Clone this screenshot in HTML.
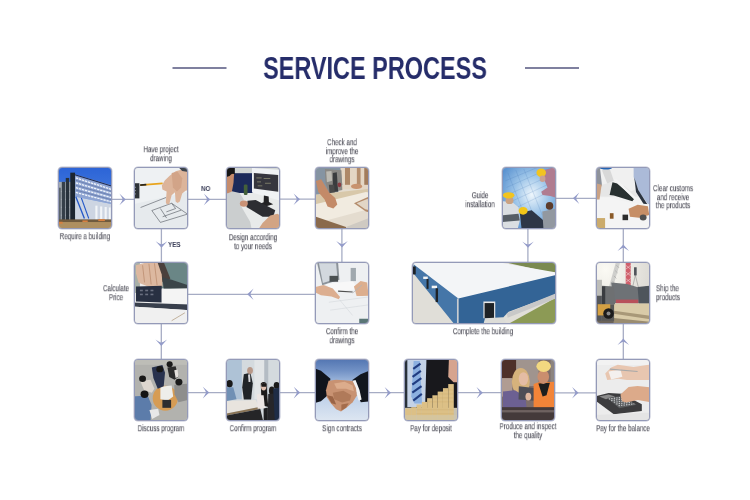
<!DOCTYPE html>
<html><head><meta charset="utf-8">
<style>
html,body{margin:0;padding:0;background:#fff;}
body{width:750px;height:500px;position:relative;overflow:hidden;font-family:"Liberation Sans",sans-serif;}
.t{position:absolute;will-change:transform;width:120px;text-align:center;font-size:8.6px;line-height:8.6px;color:#4a4a55;-webkit-text-stroke:0.1px #4a4a55;transform:translateY(0.2px) scaleX(0.726);transform-origin:50% 0;white-space:nowrap;}
.tl{text-align:left;transform-origin:0 0;}
.b{position:absolute;width:52px;height:60px;border:1px solid #949ab8;box-shadow:0 0 0 0.5px rgba(148,154,184,0.6);border-radius:4px;overflow:hidden;background:#ccc;}
.ph{position:absolute;left:-3px;top:-3px;width:58px;height:66px;display:block;filter:blur(0.7px);}
#title{position:absolute;will-change:transform;left:175px;top:52.2px;width:400px;text-align:center;font-weight:bold;font-size:31px;line-height:34px;color:#262d6a;transform:scaleX(0.757);transform-origin:50% 0;white-space:nowrap;}
.yn{position:absolute;will-change:transform;font-weight:bold;font-size:7.4px;line-height:8px;color:#3a3e58;transform:scaleX(0.85);transform-origin:0 0;}
</style></head><body>
<svg width="750" height="500" style="position:absolute;left:0;top:0">
<g fill="#7f809f">
<rect x="172.5" y="67" width="54" height="2"/>
<rect x="525" y="67" width="54" height="2"/>
</g>
<g stroke="#a6acc4" stroke-width="1.3" fill="none">
<path d="M112 199.4H134M188 199.4H226M280 199.2H315"/>
<path d="M556 198.3H596"/>
<path d="M161.4 229V262M161.3 324V359"/>
<path d="M341.9 229V262"/>
<path d="M527.9 229V262"/>
<path d="M623.3 229V262M623.3 324V359"/>
<path d="M188 294.3H315"/>
<path d="M188 392.6H226M280 392.6H315M369 392.7H404M458 392.7H501M555 392.8H596"/>
</g>
<g fill="#939bc9">
<defs><path id="ar" d="M0 0L-6.4 -5.8Q-3.6 -1.6 -3.2 0Q-3.6 1.6 -6.4 5.8Z"/></defs>
<use href="#ar" transform="translate(125.8 199.4) rotate(0)"/>
<use href="#ar" transform="translate(210.2 199.4) rotate(0)"/>
<use href="#ar" transform="translate(300 199.2) rotate(0)"/>
<use href="#ar" transform="translate(209.2 392.6) rotate(0)"/>
<use href="#ar" transform="translate(300.1 392.6) rotate(0)"/>
<use href="#ar" transform="translate(391 392.7) rotate(0)"/>
<use href="#ar" transform="translate(482.9 392.7) rotate(0)"/>
<use href="#ar" transform="translate(578.5 392.8) rotate(0)"/>
<use href="#ar" transform="translate(572.9 198.3) rotate(180)"/>
<use href="#ar" transform="translate(247.2 294.3) rotate(180)"/>
<use href="#ar" transform="translate(161.5 247.7) rotate(90)"/>
<use href="#ar" transform="translate(342 247.4) rotate(90)"/>
<use href="#ar" transform="translate(528 247.8) rotate(90)"/>
<use href="#ar" transform="translate(161.3 346) rotate(90)"/>
<use href="#ar" transform="translate(623.3 244.6) rotate(-90)"/>
<use href="#ar" transform="translate(623.3 338.5) rotate(-90)"/>
</g>
</svg>
<div id="title">SERVICE PROCESS</div>

<!-- boxes -->
<div class="b" style="left:58px;top:167px"><svg class="ph" viewBox="0 0 439 500" preserveAspectRatio="none"><defs><linearGradient id="g1" x1="0" y1="0" x2="0" y2="1"><stop offset="0" stop-color="#2a62d6"/><stop offset="1" stop-color="#5c92e6"/></linearGradient></defs>
<rect width="439" height="500" fill="url(#g1)"/>
<polygon points="118,62 439,160 439,300 140,238" fill="#8ea4d2"/>
<g stroke="#1e2a50" stroke-width="9"><path d="M118 66 L439 165"/></g>
<g stroke="#f0f4fa" stroke-width="10" stroke-dasharray="18 6"><path d="M150 98 L430 188"/><path d="M150 135 L430 218"/><path d="M150 172 L430 250"/><path d="M150 208 L430 282"/></g>
<g stroke="#2a3a68" stroke-width="2.5"><path d="M150 116 L430 204"/><path d="M150 154 L430 234"/><path d="M150 190 L430 266"/></g>
<polygon points="140,238 439,300 439,425 140,425" fill="#cdd5e2"/>
<g fill="#f2f5f8"><rect x="298" y="308" width="16" height="112"/><rect x="334" y="314" width="16" height="106"/><rect x="368" y="318" width="16" height="102"/><rect x="400" y="322" width="14" height="100"/></g>
<rect x="0" y="128" width="145" height="297" fill="#a2a9b1"/>
<g stroke="#d0d4d8" stroke-width="4"><path d="M0 200 H110M0 260 H110M0 320 H110M0 380 H110"/></g>
<rect x="108" y="58" width="36" height="387" fill="#1c2530"/>
<rect x="74" y="98" width="26" height="337" fill="#27313b"/>
<rect x="44" y="128" width="24" height="297" fill="#353f49"/>
<rect x="0" y="172" width="36" height="250" fill="#5a636c"/>
<line x1="150" y1="240" x2="215" y2="405" stroke="#2458c8" stroke-width="10"/>
<line x1="192" y1="250" x2="248" y2="405" stroke="#2458c8" stroke-width="8"/>
<rect x="0" y="420" width="439" height="80" fill="#ae8f60"/>
<rect x="0" y="412" width="439" height="20" fill="#6f5a3e"/>
<g fill="#d88040"><rect x="20" y="430" width="30" height="15"/><rect x="200" y="420" width="40" height="12"/><rect x="320" y="410" width="50" height="15"/></g>
</svg></div>
<div class="b" style="left:134px;top:167px"><svg class="ph" viewBox="0 0 439 500" preserveAspectRatio="none"><rect width="439" height="500" fill="#eef1f3"/>
<polygon points="0,300 439,200 439,500 0,500" fill="#e6eaed"/>
<g stroke="#4e525c" stroke-width="4.5" fill="none"><path d="M65 322 L258 246"/><path d="M150 345 L300 290 L420 372"/><path d="M150 345 L215 435 L420 372"/><path d="M215 330 L262 402"/><path d="M232 392 L372 342"/><path d="M300 290 L330 330"/><path d="M330 330 L260 355"/></g>
<rect x="0" y="138" width="56" height="115" fill="#2e3338"/>
<g fill="#8a9096"><rect x="20" y="165" width="10" height="8"/><rect x="20" y="190" width="10" height="8"/><rect x="20" y="215" width="10" height="8"/></g>
<line x1="62" y1="152" x2="232" y2="140" stroke="#e8a41c" stroke-width="13"/>
<line x1="62" y1="152" x2="108" y2="149" stroke="#2a2620" stroke-width="13"/>
<polygon points="439,25 400,28 330,48 285,82 248,118 226,155 230,186 262,200 256,282 262,297 282,297 300,230 325,206 330,276 345,288 362,276 380,215 405,196 439,186" fill="#dcb49a"/>
<polygon points="300,60 345,52 380,100 372,170 340,200 310,170" fill="#d2a488"/>
<polygon points="350,15 439,15 439,55 380,45" fill="#3e454d"/>
</svg></div>
<div class="b" style="left:226px;top:167px"><svg class="ph" viewBox="0 0 439 500" preserveAspectRatio="none"><rect width="439" height="500" fill="#e8eaea"/>
<rect x="0" y="0" width="439" height="65" fill="#d2d6d4"/>
<rect x="60" y="62" width="160" height="150" fill="#1c2a5a"/>
<polygon points="212,22 420,36 420,268 212,208" fill="#f0f2f4"/>
<polygon points="226,60 410,76 410,202 226,178" fill="#36363e"/>
<g fill="#8a8a72"><rect x="245" y="95" width="40" height="6"/><rect x="300" y="100" width="50" height="6"/><rect x="250" y="125" width="30" height="6"/><rect x="310" y="135" width="45" height="6"/><rect x="255" y="155" width="35" height="6"/></g>
<polygon points="302,232 338,238 340,280 372,298 320,312 268,296 300,282" fill="#222224"/>
<polygon points="178,270 240,266 388,342 372,392 292,392 170,318" fill="#2c2d32"/>
<rect x="150" y="148" width="28" height="80" rx="10" fill="#44603a"/>
<polygon points="0,212 60,198 118,212 150,262 130,312 168,378 198,430 212,500 0,500" fill="#cbcecf"/>
<polygon points="0,40 62,40 76,70 72,135 60,200 30,214 0,214" fill="#c68c6c"/>
<path d="M0 0 H82 V72 Q62 58 42 84 L0 96Z" fill="#161616"/>
<ellipse cx="150" cy="292" rx="30" ry="24" fill="#c99276"/>
<polygon points="292,440 350,382 405,370 439,392 439,500 252,500" fill="#d2a484"/>
</svg></div>
<div class="b" style="left:315px;top:167px"><svg class="ph" viewBox="0 0 439 500" preserveAspectRatio="none"><rect width="439" height="500" fill="#e4dccf"/>
<rect x="190" y="0" width="249" height="182" fill="#e4d6c4"/>
<rect x="242" y="0" width="38" height="150" fill="#ae8868"/>
<rect x="332" y="0" width="28" height="160" fill="#b48e6e"/>
<rect x="388" y="0" width="51" height="150" fill="#a27c5c"/>
<polygon points="0,0 205,0 222,150 190,205 100,220 0,228" fill="#8594a2"/>
<polygon points="90,30 215,40 222,190 120,210 95,140" fill="#8a8884"/>
<polygon points="100,50 140,45 145,120 105,130" fill="#bcbab2"/>
<polygon points="150,60 180,55 190,200 150,205" fill="#3a3c3e"/>
<polygon points="120,150 160,150 165,210 125,212" fill="#4a4a4a"/>
<ellipse cx="200" cy="150" rx="14" ry="18" fill="#8a3a40"/>
<polygon points="0,228 439,178 439,255 0,300" fill="#d8c8aa"/>
<polygon points="10,300 400,205 439,212 439,330 100,420 0,420" fill="#f1ebe0"/>
<polygon points="22,122 62,108 122,208 168,250 184,300 154,330 110,314 88,262 40,205" fill="#c38a68"/>
<ellipse cx="330" cy="162" rx="42" ry="20" fill="#c8926e"/>
<polygon points="0,385 250,470 250,500 0,500" fill="#8a6a4c"/>
<polygon points="250,470 439,395 439,500 250,500" fill="#cfcac2"/>
<polygon points="310,290 420,240 439,250 439,362 400,352" fill="#b48c6c"/>
<polygon points="330,290 415,255 420,340 395,335" fill="#e2d6c6"/>
</svg></div>
<div class="b" style="left:502px;top:167px"><svg class="ph" viewBox="0 0 439 500" preserveAspectRatio="none"><defs><radialGradient id="g5" cx="0.55" cy="0.45" r="0.6"><stop offset="0" stop-color="#eef6fc"/><stop offset="0.5" stop-color="#9cc4e8"/><stop offset="1" stop-color="#5a92d0"/></radialGradient></defs>
<rect width="439" height="500" fill="url(#g5)"/>
<g stroke="#3a70b0" stroke-width="2.5" opacity="0.55"><path d="M40 120 L280 20"/><path d="M50 170 L320 50"/><path d="M70 220 L360 90"/><path d="M100 270 L400 130"/><path d="M130 320 L439 170"/><path d="M60 60 L200 420"/><path d="M120 40 L260 400"/><path d="M180 30 L320 380"/></g>
<polygon points="325,40 400,20 439,30 439,252 380,234 322,228 312,202 360,170 338,120" fill="#b07c90"/>
<ellipse cx="312" cy="58" rx="36" ry="32" fill="#f2c420"/>
<ellipse cx="322" cy="104" rx="22" ry="24" fill="#caa290"/>
<polygon points="0,272 92,280 140,320 150,420 130,500 0,500" fill="#dadee2"/>
<polygon points="20,380 140,370 150,420 20,432" fill="#565e66"/>
<ellipse cx="72" cy="268" rx="30" ry="28" fill="#caa282"/>
<ellipse cx="65" cy="230" rx="44" ry="24" fill="#f2c420"/>
<polygon points="150,362 240,342 330,420 350,500 165,500" fill="#2e3646"/>
<ellipse cx="175" cy="347" rx="34" ry="29" fill="#f2c618"/>
<polygon points="320,352 420,332 439,362 439,500 330,500" fill="#9298a0"/>
<ellipse cx="375" cy="310" rx="28" ry="29" fill="#5c3c2c"/>
</svg></div>
<div class="b" style="left:596px;top:167px"><svg class="ph" viewBox="0 0 439 500" preserveAspectRatio="none"><rect width="439" height="500" fill="#f2f2f2"/>
<rect x="0" y="0" width="439" height="240" fill="#e6e6e6"/>
<polygon points="0,0 60,0 70,120 40,200 0,220" fill="#8e929a"/>
<polygon points="45,20 300,20 320,180 280,200 230,160 130,130 60,150" fill="#f0f0f0"/>
<polygon points="60,40 120,30 150,120 100,140" fill="#d8d8d8"/>
<ellipse cx="90" cy="22" rx="45" ry="13" fill="#2262b2"/>
<polygon points="140,130 175,140 240,195 305,255 290,275 230,255 150,232 118,228" fill="#283030"/>
<polygon points="150,110 170,108 320,250 305,262" fill="#f4f4f4"/>
<polygon points="300,18 439,18 439,300 410,300 340,200 300,90" fill="#abbad8"/>
<polygon points="305,95 335,190 405,300 385,310 318,205" fill="#2c3440"/>
<polygon points="0,250 120,248 260,285 439,300 439,500 0,500" fill="#f4f4f4"/>
<polygon points="20,140 58,150 42,262 20,262" fill="#caa284"/>
<polygon points="262,332 330,302 408,312 418,378 340,400 272,392" fill="#c68e66"/>
<rect x="120" y="365" width="28" height="42" fill="#8a5a28"/>
<rect x="216" y="376" width="42" height="42" fill="#2c2c2c"/>
<rect x="0" y="402" width="84" height="98" fill="#cbab6c"/>
<ellipse cx="372" cy="398" rx="26" ry="23" fill="#505050"/>
</svg></div>
<div class="b" style="left:134px;top:262px"><svg class="ph" viewBox="0 0 439 500" preserveAspectRatio="none"><rect width="439" height="500" fill="#eeeeee"/>
<rect x="200" y="0" width="239" height="215" fill="#6a8686"/>
<rect x="0" y="0" width="60" height="250" fill="#a8b0a8"/>
<polygon points="185,20 240,15 290,140 250,180 205,150" fill="#4a403c"/>
<polygon points="30,40 100,20 195,22 225,110 232,200 150,212 50,172 30,100" fill="#dcb8a0"/>
<g stroke="#b48466" stroke-width="5"><path d="M80 40 L95 170"/><path d="M128 28 L145 185"/><path d="M170 25 L190 190"/></g>
<polygon points="230,130 300,150 420,190 420,215 240,215" fill="#3a4448"/>
<polygon points="30,200 225,195 225,322 30,315" fill="#283042"/>
<g fill="#6a7080"><rect x="60" y="225" width="22" height="12"/><rect x="100" y="225" width="22" height="12"/><rect x="140" y="225" width="22" height="12"/><rect x="60" y="255" width="22" height="12"/><rect x="100" y="255" width="22" height="12"/><rect x="140" y="255" width="22" height="12"/></g>
<polygon points="225,222 420,215 420,340 225,335" fill="#f4f4f4"/>
<polygon points="0,322 439,338 439,380 0,352" fill="#383f4c"/>
<polygon points="0,352 439,380 439,500 0,500" fill="#f0f0f0"/>
<line x1="300" y1="460" x2="400" y2="400" stroke="#a89070" stroke-width="5"/>
</svg></div>
<div class="b" style="left:315px;top:262px"><svg class="ph" viewBox="0 0 439 500" preserveAspectRatio="none"><rect width="439" height="500" fill="#eef0f2"/>
<polygon points="30,18 190,18 200,150 70,192" fill="#8c939a"/>
<polygon points="45,25 175,25 185,140 75,175" fill="#d2d8de"/>
<rect x="125" y="120" width="65" height="45" fill="#4a5052"/>
<polygon points="100,182 300,160 340,222 140,242" fill="#f8f8f8"/>
<rect x="285" y="60" width="40" height="100" fill="#a0a8ae"/>
<line x1="190" y1="236" x2="300" y2="242" stroke="#505050" stroke-width="8"/>
<polygon points="18,205 80,190 150,215 205,280 195,298 140,277 60,267 18,247" fill="#dcae90"/>
<polygon points="310,200 360,160 410,170 420,270 370,272 330,272" fill="#dcae8e"/>
<line x1="300" y1="250" x2="370" y2="190" stroke="#b0b4b8" stroke-width="6"/>
<g stroke="#c8ccd0" stroke-width="3"><path d="M120 320 L420 280"/><path d="M130 380 L420 340"/><path d="M200 300 L300 420"/></g>
<rect x="350" y="445" width="89" height="55" fill="#5a7676"/>
</svg></div>
<div class="b" style="left:412px;top:262px;width:142px"><svg class="ph" style="width:148px;height:66px" viewBox="0 0 750 334" preserveAspectRatio="none"><rect width="750" height="334" fill="#e0ded8"/>
<polygon points="430,0 750,0 750,72" fill="#7a8a50"/>
<polygon points="20,10 440,10 750,64 750,76 245,198 20,26" fill="#f3f5f7"/>
<polygon points="18,22 245,195 245,334 232,334 17,67" fill="#4576a8"/>
<g fill="#f4f4f4"><rect x="67" y="84" width="23" height="12"/><rect x="110" y="130" width="27" height="13"/></g>
<g fill="#1e2226"><rect x="84" y="96" width="10" height="50"/><rect x="130" y="143" width="12" height="70"/><rect x="13" y="33" width="16" height="40"/></g>
<polygon points="245,195 750,74 750,170 500,262 430,334 245,334" fill="#336496"/>
<polygon points="480,334 750,185 750,334" fill="#8c9a55"/>
<polygon points="490,270 750,165 750,190 495,292" fill="#c8c8c8"/>
<rect x="372" y="210" width="60" height="85" fill="#e8e8e8"/>
<rect x="378" y="218" width="48" height="77" fill="#1e2226"/>
<rect x="238" y="195" width="8" height="139" fill="#c8ccd0"/>
<polygon points="380,295 470,290 500,334 370,334" fill="#dcdcd8"/>
</svg></div>
<div class="b" style="left:596px;top:262px"><svg class="ph" viewBox="0 0 439 500" preserveAspectRatio="none"><defs><radialGradient id="g10" cx="0.2" cy="0.15" r="0.8"><stop offset="0" stop-color="#fbfaf4"/><stop offset="1" stop-color="#dcdad4"/></radialGradient></defs>
<rect width="439" height="500" fill="url(#g10)"/>
<polygon points="165,18 198,18 135,235 105,235" fill="#cfcfcc"/>
<g stroke="#8a8a88" stroke-width="3"><path d="M170 40 L190 60M160 80 L180 100M150 120 L170 140M140 160 L160 180"/></g>
<rect x="240" y="18" width="38" height="195" fill="#d0606c"/>
<g stroke="#f0e0e0" stroke-width="4"><path d="M240 40 L278 70M240 90 L278 120M240 140 L278 170M278 40 L240 70M278 90 L240 120M278 140 L240 170"/></g>
<rect x="303" y="55" width="20" height="62" fill="#50545a"/>
<line x1="313" y1="115" x2="290" y2="215" stroke="#666" stroke-width="3"/>
<line x1="313" y1="115" x2="338" y2="215" stroke="#666" stroke-width="3"/>
<polygon points="130,170 250,182 350,212 420,196 420,330 150,325" fill="#6e7276"/>
<polygon points="330,205 420,195 420,330 340,330" fill="#4e555c"/>
<rect x="165" y="300" width="170" height="28" fill="#b8505a"/>
<polygon points="150,330 439,330 439,500 150,500" fill="#d9cba8"/>
<polygon points="150,385 439,425 439,450 150,408" fill="#a89878"/>
<polygon points="150,440 439,470 439,500 150,500" fill="#9a8c70"/>
<rect x="0" y="150" width="60" height="120" fill="#bdbdb9"/>
<polygon points="60,195 150,200 160,335 60,335" fill="#6e7072"/>
<rect x="60" y="200" width="25" height="140" fill="#3a3c40"/>
<polygon points="0,270 60,270 60,470 0,470" fill="#55575a"/>
<rect x="60" y="335" width="92" height="130" fill="#5a5a58"/>
<rect x="28" y="335" width="95" height="85" fill="#d4a043"/>
<circle cx="110" cy="405" r="40" fill="#1c1c1c"/>
<circle cx="110" cy="405" r="15" fill="#8a8a8a"/>
<rect x="0" y="460" width="150" height="40" fill="#6a6258"/>
</svg></div>
<div class="b" style="left:134px;top:359px"><svg class="ph" viewBox="0 0 439 500" preserveAspectRatio="none"><rect width="439" height="500" fill="#b2b2ae"/>
<rect x="0" y="0" width="439" height="60" fill="#bdbdb7"/>
<circle cx="252" cy="312" r="95" fill="#d69c54"/>
<polygon points="215,225 300,215 312,300 270,330 215,320" fill="#eeeeea"/>
<rect x="230" y="325" width="66" height="60" fill="#2e2e30"/>
<polygon points="150,80 230,60 250,120 240,222 195,240 162,160" fill="#28324e"/>
<ellipse cx="210" cy="92" rx="26" ry="24" fill="#161616"/>
<polygon points="268,80 330,70 352,150 322,172 282,152" fill="#2c2c2c"/>
<polygon points="320,100 345,95 352,150 330,160" fill="#e4e0dc"/>
<ellipse cx="285" cy="55" rx="23" ry="23" fill="#1a1a1a"/>
<polygon points="62,182 140,172 170,240 150,270 92,252" fill="#ddd6ce"/>
<ellipse cx="80" cy="165" rx="26" ry="25" fill="#181818"/>
<polygon points="320,210 439,200 439,322 352,342 322,282" fill="#8e8e8c"/>
<ellipse cx="355" cy="190" rx="27" ry="26" fill="#1a1a1a"/>
<polygon points="0,300 118,292 148,362 140,500 0,500" fill="#5c7caa"/>
<ellipse cx="95" cy="282" rx="30" ry="28" fill="#141414"/>
<polygon points="132,402 198,392 208,440 152,470" fill="#e8e8e8"/>
</svg></div>
<div class="b" style="left:226px;top:359px"><svg class="ph" viewBox="0 0 439 500" preserveAspectRatio="none"><rect width="439" height="500" fill="#d4dade"/>
<rect x="0" y="0" width="135" height="320" fill="#aec2d6"/>
<rect x="230" y="0" width="75" height="320" fill="#e2e5e7"/>
<rect x="305" y="0" width="30" height="300" fill="#b4bcc4"/>
<polygon points="150,130 200,120 218,200 205,322 150,322 138,230" fill="#202428"/>
<polygon points="182,132 198,130 200,190 186,190" fill="#d8d8dc"/>
<ellipse cx="197" cy="102" rx="22" ry="27" fill="#b89888"/>
<polygon points="0,230 70,230 95,320 0,338" fill="#7090b4"/>
<ellipse cx="42" cy="202" rx="24" ry="27" fill="#1a1a1a"/>
<polygon points="0,335 240,325 268,378 0,432" fill="#e8e4de"/>
<polygon points="0,432 268,378 275,394 0,447" fill="#8a7456"/>
<polygon points="0,447 275,394 300,500 0,500" fill="#252527"/>
<polygon points="248,285 300,268 312,388 255,392" fill="#ece6e4"/>
<path d="M278 200 Q300 180 322 200 L328 300 L335 378 L308 372 L300 290 L282 290 Z" fill="#1c1a1a"/>
<ellipse cx="300" cy="225" rx="20" ry="28" fill="#e0c0b0"/>
<path d="M282 205 Q300 188 320 205 L320 225 L284 225Z" fill="#1c1a1a"/>
<ellipse cx="362" cy="255" rx="22" ry="32" fill="#1e1c1c"/>
<polygon points="335,280 390,275 398,500 330,500" fill="#26262a"/>
<ellipse cx="398" cy="215" rx="22" ry="26" fill="#1a1a1a"/>
<polygon points="372,238 439,232 439,500 385,500" fill="#1e2c46"/>
<polygon points="300,390 332,382 332,500 300,500" fill="#1e1e20"/>
</svg></div>
<div class="b" style="left:315px;top:359px"><svg class="ph" viewBox="0 0 439 500" preserveAspectRatio="none"><defs><linearGradient id="g13" x1="0" y1="0" x2="0" y2="1"><stop offset="0" stop-color="#4d70ae"/><stop offset="0.2" stop-color="#7090c4"/><stop offset="0.45" stop-color="#b2c8e6"/><stop offset="1" stop-color="#e0e8f2"/></linearGradient></defs>
<rect width="439" height="500" fill="url(#g13)"/>
<polygon points="0,82 60,105 132,165 122,230 112,290 60,335 0,352" fill="#10141c"/>
<polygon points="439,98 360,130 298,175 312,225 342,300 362,342 439,335" fill="#12161e"/>
<polygon points="298,180 322,175 352,250 368,322 346,332 325,262" fill="#f2f2f4"/>
<polygon points="118,180 175,172 235,176 300,182 325,235 332,292 300,342 255,382 212,412 175,396 135,350 105,305 98,252" fill="#c89272"/>
<polygon points="160,200 240,188 300,215 310,260 250,240 180,240" fill="#dcac8c"/>
<polygon points="150,270 230,255 290,290 280,330 220,345 160,320" fill="#b07a5a"/>
<polygon points="105,290 150,300 175,360 140,350" fill="#9a6446"/>
<polygon points="215,360 270,350 250,385 215,405" fill="#a46c4c"/>
</svg></div>
<div class="b" style="left:404px;top:359px"><svg class="ph" viewBox="0 0 439 500" preserveAspectRatio="none"><rect width="439" height="500" fill="#18181c"/>
<rect x="0" y="0" width="42" height="390" fill="#283038"/>
<polygon points="40,18 185,18 175,380 40,380" fill="#c4d2e6"/>
<polygon points="88,30 135,30 152,352 95,352 70,300" fill="#8cb0e0"/>
<g stroke="#203c80" stroke-width="16"><path d="M85 90 L140 50"/><path d="M80 150 L143 105"/><path d="M78 210 L146 160"/><path d="M78 270 L148 220"/><path d="M85 330 L150 280"/></g>
<polygon points="355,18 439,18 439,192 390,192 350,152" fill="#d6a48e"/>
<rect x="0" y="385" width="439" height="115" fill="#c8c2b0"/>
<g fill="#dcc086"><rect x="25" y="390" width="45" height="100"/><rect x="70" y="380" width="38" height="110"/><rect x="110" y="360" width="40" height="130"/><rect x="150" y="340" width="40" height="150"/><rect x="190" y="312" width="40" height="178"/><rect x="230" y="290" width="40" height="200"/><rect x="270" y="262" width="40" height="228"/><rect x="310" y="236" width="40" height="254"/><rect x="350" y="205" width="42" height="285"/></g>
<g stroke="#b8924e" stroke-width="2" opacity="0.7"><path d="M110 400H392M110 430H392M190 340H392M230 310H392M270 280H392M310 250H392"/></g>
<rect x="0" y="440" width="439" height="60" fill="#d0c8b0" opacity="0.55"/></svg></div>
<div class="b" style="left:501px;top:359px"><svg class="ph" viewBox="0 0 439 500" preserveAspectRatio="none"><rect width="439" height="500" fill="#7e6e6a"/>
<rect x="0" y="0" width="130" height="160" fill="#4e3029"/>
<rect x="130" y="0" width="170" height="220" fill="#a0948e"/>
<rect x="390" y="0" width="49" height="220" fill="#8c8480"/>
<rect x="0" y="160" width="100" height="140" fill="#b09c92"/>
<ellipse cx="165" cy="188" rx="68" ry="105" fill="#d6b27c"/>
<ellipse cx="185" cy="165" rx="36" ry="50" fill="#e4bca4"/>
<polygon points="30,262 120,252 200,300 212,420 30,420" fill="#6c6092"/>
<polygon points="150,222 280,236 275,332 148,322" fill="#4e4e56"/>
<ellipse cx="222" cy="300" rx="22" ry="30" fill="#e0b8a0"/>
<polygon points="262,205 300,192 439,188 439,382 262,392" fill="#f28438"/>
<polygon points="298,200 385,196 360,290 330,300" fill="#1e1e1e"/>
<ellipse cx="335" cy="150" rx="44" ry="54" fill="#ca8e6e"/>
<ellipse cx="338" cy="70" rx="55" ry="44" fill="#f2d880"/>
<rect x="0" y="380" width="439" height="120" fill="#443a3a"/>
<rect x="0" y="402" width="439" height="18" fill="#6e6260"/>
</svg></div>
<div class="b" style="left:596px;top:359px"><svg class="ph" viewBox="0 0 439 500" preserveAspectRatio="none"><rect width="439" height="500" fill="#ececec"/>
<rect x="0" y="0" width="439" height="60" fill="#f2f2f2"/>
<polygon points="85,125 130,80 180,58 300,75 439,55 439,175 250,175 185,165 100,175" fill="#e8c6b0"/>
<polygon points="110,110 200,95 215,150 130,170" fill="#f4f0ee"/>
<line x1="120" y1="92" x2="330" y2="110" stroke="#a8a8a8" stroke-width="8"/>
<polygon points="20,295 110,272 210,278 362,358 362,410 150,434 20,338" fill="#3c3c3e"/>
<polygon points="40,300 110,285 160,300 90,320" fill="#8a8a8a"/>
<polygon points="100,310 210,296 322,362 192,388" fill="#5a5c5e"/>
<g stroke="#c8cacc" stroke-width="9" stroke-dasharray="10 9"><path d="M112 318 L215 305"/><path d="M130 330 L240 316"/><path d="M150 343 L262 329"/><path d="M168 356 L284 342"/><path d="M186 369 L305 355"/></g>
<polygon points="200,285 262,228 330,220 439,232 439,345 332,325 242,345 212,335" fill="#dcaa8a"/>
<polygon points="0,440 439,420 439,500 0,500" fill="#e4e4e4"/>
</svg></div>

<!-- labels -->
<div class="t" style="left:25px;top:232px">Require a building</div>
<div class="t" style="left:101px;top:145px">Have project<br>drawing</div>
<div class="t" style="left:193px;top:232.5px">Design according<br>to your needs</div>
<div class="t" style="left:282px;top:138px">Check and<br>improve the<br>drawings</div>
<div class="t" style="left:420px;top:190.5px">Guide<br>installation</div>
<div class="t" style="left:613px;top:184.3px">Clear customs<br>and receive<br>the products</div>
<div class="t" style="left:55.5px;top:284px">Calculate<br>Price</div>
<div class="t" style="left:282px;top:326.8px">Confirm the<br>drawings</div>
<div class="t" style="left:423px;top:326.8px">Complete the building</div>
<div class="t tl" style="left:656px;top:283.8px">Ship the<br>products</div>
<div class="t" style="left:101px;top:424px">Discuss program</div>
<div class="t" style="left:192.5px;top:424px">Confirm program</div>
<div class="t" style="left:281.6px;top:424px">Sign contracts</div>
<div class="t" style="left:371px;top:424px">Pay for deposit</div>
<div class="t" style="left:468px;top:421.5px">Produce and inspect<br>the quality</div>
<div class="t" style="left:562.7px;top:424px">Pay for the balance</div>

<div class="yn" style="left:201px;top:184.5px">NO</div>
<div class="yn" style="left:168px;top:240.8px">YES</div>
</body></html>
